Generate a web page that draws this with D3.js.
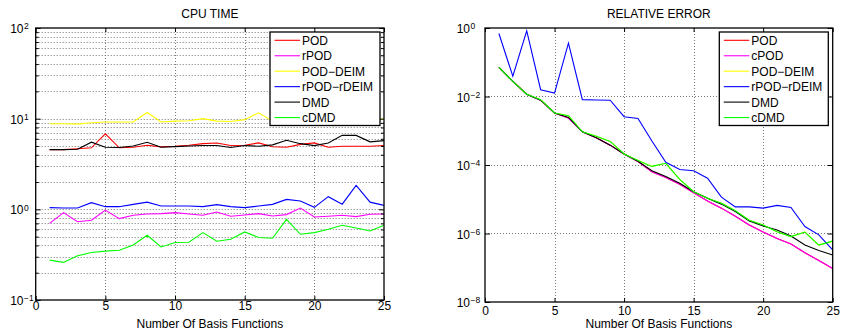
<!DOCTYPE html>
<html>
<head>
<meta charset="utf-8">
<script src="https://cdn.jsdelivr.net/npm/d3@7"></script>
<style>
body { margin: 0; background: #fff; }
svg { display: block; font-family: "Liberation Sans", Arial, sans-serif; }
</style>
</head>
<body>
<svg></svg>
<script>
var WIDTH = 841;
var HEIGHT = 330;
var FONT = '"Liberation Sans", Arial, sans-serif';

// x values and tick labels
var basisFunctions = [1, 2, 3, 4, 5, 6, 7, 8, 9, 10, 11, 12, 13, 14, 15, 16, 17, 18, 19, 20, 21, 22, 23, 24, 25];
var xTickValues = [0, 5, 10, 15, 20, 25];
var cpuTicks = [0.1, 1, 10, 100];
var cpuTickExp = ['\u22121', '0', '1', '2'];
var errTicks = [1e-8, 1e-6, 1e-4, 1e-2, 1];
var errTickExp = ['\u22128', '\u22126', '\u22124', '\u22122', '0'];

var cpuNames = ['POD', 'rPOD', 'POD\u2212DEIM', 'rPOD\u2212rDEIM', 'DMD', 'cDMD'];
var errNames = ['POD', 'cPOD', 'POD\u2212DEIM', 'rPOD\u2212rDEIM', 'DMD', 'cDMD'];
var seriesColors = ['#ff0000', '#ff00ff', '#ffff00', '#0000ff', '#000000', '#00ff00'];

// CPU TIME (seconds)
var cpuPOD = [4.56, 4.56, 4.65, 4.77, 6.8, 4.77, 4.84, 5.09, 4.89, 4.96, 5.09, 5.3, 5.4, 5.05, 5.1, 5.4, 4.9, 4.84, 5.2, 5.4, 4.84, 4.96, 4.96, 4.96, 5.05];
var cpuRPOD = [0.70, 0.92, 0.73, 0.757, 0.98, 0.79, 0.86, 0.888, 0.897, 0.92, 0.888, 0.86, 0.934, 0.838, 0.866, 0.897, 0.844, 0.875, 1.033, 0.823, 0.838, 0.859, 0.831, 0.881, 0.888];
var cpuPODDEIM = [8.8, 8.8, 8.7, 9.0, 9.2, 9.2, 9.2, 11.7, 9.2, 9.4, 9.5, 10.0, 9.4, 9.3, 9.75, 11.6, 9.4, 9.5, 9.6, 9.5, 9.7, 9.6, 9.8, 9.7, 9.9];
var cpuRPODRDEIM = [1.044, 1.035, 1.035, 1.185, 1.07, 1.07, 1.135, 1.2, 1.087, 1.087, 1.087, 1.07, 1.126, 1.07, 1.044, 1.087, 1.135, 1.288, 1.234, 1.052, 1.38, 1.14, 1.835, 1.2, 1.106];
var cpuDMD = [4.56, 4.56, 4.6, 5.5, 4.84, 4.8, 5.0, 5.5, 4.84, 4.92, 5.0, 5.05, 5.05, 4.8, 5.05, 4.96, 5.14, 5.78, 5.3, 5.05, 5.4, 6.54, 6.54, 5.55, 5.73];
var cpuCDMD = [0.275, 0.26, 0.307, 0.334, 0.346, 0.354, 0.405, 0.518, 0.385, 0.43, 0.434, 0.554, 0.445, 0.468, 0.563, 0.489, 0.48, 0.776, 0.531, 0.554, 0.603, 0.667, 0.623, 0.578, 0.667];

// RELATIVE ERROR
var errPOD = [0.0708, 0.0275, 0.0117, 0.0078, 0.0033, 0.00234, 9.3e-4, 6.2e-4, 3.8e-4, 2.1e-4, 1.26e-4, 6.3e-5, 4.3e-5, 2.75e-5, 1.55e-5, 8.9e-6, 5.5e-6, 3.2e-6, 1.78e-6, 1.1e-6, 7.2e-7, 4.9e-7, 2.75e-7, 1.62e-7, 9.5e-8];
var errCPOD = [0.0708, 0.0275, 0.0117, 0.0078, 0.0033, 0.00234, 9.3e-4, 6.2e-4, 3.8e-4, 2.1e-4, 1.26e-4, 6.3e-5, 4.3e-5, 2.75e-5, 1.55e-5, 8.9e-6, 5.5e-6, 3.2e-6, 1.78e-6, 1.1e-6, 7.2e-7, 4.9e-7, 2.75e-7, 1.62e-7, 9.5e-8];
var errPODDEIM = [0.0708, 0.0275, 0.0117, 0.0081, 0.0033, 0.00275, 9.3e-4, 6.9e-4, 4.9e-4, 2.1e-4, 1.35e-4, 9.1e-5, 1.12e-4, 3.8e-5, 1.66e-5, 1.07e-5, 7.6e-6, 4.6e-6, 2.45e-6, 1.78e-6, 1.12e-6, 8.1e-7, 1.1e-6, 4.6e-7, 6.0e-7];
var errRPODRDEIM = [0.69, 0.039, 0.83, 0.0158, 0.0126, 0.36, 0.0081, 0.0079, 0.0078, 0.00257, 0.00229, 5.0e-4, 1.2e-4, 7.4e-5, 6.8e-5, 4.1e-5, 1.15e-5, 6.0e-6, 6.0e-6, 5.5e-6, 6.6e-6, 5.75e-6, 1.6e-6, 9.1e-7, 3.3e-7];
var errDMD = [0.0708, 0.0275, 0.0117, 0.0078, 0.0033, 0.00245, 9.3e-4, 6.2e-4, 3.8e-4, 2.1e-4, 1.29e-4, 6.8e-5, 4.6e-5, 2.95e-5, 1.66e-5, 1.07e-5, 7.2e-6, 4.4e-6, 2.3e-6, 1.66e-6, 1.26e-6, 8.5e-7, 4.6e-7, 3.2e-7, 2.35e-7];
var errCDMD = [0.0708, 0.0275, 0.0117, 0.0081, 0.0033, 0.00275, 9.3e-4, 6.9e-4, 4.9e-4, 2.1e-4, 1.35e-4, 9.1e-5, 1.12e-4, 3.8e-5, 1.66e-5, 1.07e-5, 7.6e-6, 4.6e-6, 2.45e-6, 1.78e-6, 1.12e-6, 8.1e-7, 1.1e-6, 4.6e-7, 6.0e-7];

var svg = d3.select('svg')
    .attr('width', WIDTH)
    .attr('height', HEIGHT);

svg.append('rect').attr('width', WIDTH).attr('height', HEIGHT).attr('fill', '#fff');

function drawPanel(p){
    var g = svg.append('g');
    var xScale = d3.scaleLinear().domain([0, 25]).range([p.left, p.right]);
    var yScale = d3.scaleLog().domain(p.yDomain).range([p.bottom, p.top]);

    // dotted grid
    g.selectAll('line.vgrid')
        .data(xTickValues.slice(1, -1))
        .enter().append('line')
        .attr('x1', function(d){ return Math.round(xScale(d)) + 0.5; })
        .attr('x2', function(d){ return Math.round(xScale(d)) + 0.5; })
        .attr('y1', p.top).attr('y2', p.bottom)
        .attr('stroke', '#777').attr('stroke-dasharray', '1,2');
    g.selectAll('line.hgrid')
        .data(p.gridValues)
        .enter().append('line')
        .attr('x1', p.left).attr('x2', p.right)
        .attr('y1', function(d){ return Math.round(yScale(d)) + 0.5; })
        .attr('y2', function(d){ return Math.round(yScale(d)) + 0.5; })
        .attr('stroke', '#777').attr('stroke-dasharray', '1,2');

    // series
    var line = d3.line()
        .x(function(d, i){ return xScale(basisFunctions[i]); })
        .y(function(d){ return yScale(d); });
    g.selectAll('path.series')
        .data(p.series)
        .enter().append('path')
        .attr('d', line)
        .attr('fill', 'none')
        .attr('stroke-width', 1.1)
        .attr('stroke', function(d, i){ return seriesColors[i]; });

    // axes with inward ticks
    var bottomAxis = d3.axisBottom(xScale).tickValues(xTickValues)
        .tickSizeInner(-4).tickSizeOuter(0).tickPadding(p.xPad);
    var topAxis = d3.axisTop(xScale).tickValues(xTickValues)
        .tickSizeInner(-4).tickSizeOuter(0).tickFormat('');
    var leftAxis = d3.axisLeft(yScale).tickValues(p.yTicks)
        .tickSizeInner(-5).tickSizeOuter(0).tickFormat('');
    var rightAxis = d3.axisRight(yScale).tickValues(p.yTicks)
        .tickSizeInner(-5).tickSizeOuter(0).tickFormat('');

    var gb = g.append('g').attr('transform', 'translate(0,' + p.bottom + ')').call(bottomAxis);
    g.append('g').attr('transform', 'translate(0,' + p.top + ')').call(topAxis);
    var gl = g.append('g').attr('transform', 'translate(' + p.left + ',0)').call(leftAxis);
    g.append('g').attr('transform', 'translate(' + p.right + ',0)').call(rightAxis);

    if (p.minorTicks) {
        g.append('g').attr('transform', 'translate(' + p.left + ',0)')
            .call(d3.axisLeft(yScale).tickValues(p.minorTicks).tickSizeInner(-3).tickSizeOuter(0).tickFormat(''));
        g.append('g').attr('transform', 'translate(' + p.right + ',0)')
            .call(d3.axisRight(yScale).tickValues(p.minorTicks).tickSizeInner(-3).tickSizeOuter(0).tickFormat(''));
    }
    g.selectAll('.domain').remove();
    g.selectAll('.tick line').attr('stroke', '#000');

    gb.attr('font-size', 12).attr('font-family', FONT);
    gb.selectAll('text').attr('fill', '#000');

    // y labels as 10^n, placed relative to the axis group
    var lx = p.labelX - p.left;
    gl.selectAll('.tick').each(function(d, i){
        var t = d3.select(this);
        t.append('text')
            .attr('x', lx).attr('y', 4.5)
            .attr('text-anchor', 'end')
            .attr('font-size', 12).attr('font-family', FONT)
            .attr('fill', '#000')
            .text('10');
        t.append('text')
            .attr('x', lx + 0.5).attr('y', 0.8)
            .attr('text-anchor', 'start')
            .attr('font-size', 8.5).attr('font-family', FONT)
            .attr('fill', '#000')
            .text(p.yExp[i]);
    });

    // frame
    g.append('rect')
        .attr('x', p.left).attr('y', p.top)
        .attr('width', p.right - p.left).attr('height', p.bottom - p.top)
        .attr('fill', 'none').attr('stroke', '#000').attr('stroke-width', 1.3);

    // title and x label
    g.append('text')
        .attr('x', (p.left + p.right) / 2).attr('y', 18.3)
        .attr('text-anchor', 'middle').attr('font-size', 12)
        .text(p.title);
    g.append('text')
        .attr('x', (p.left + p.right) / 2).attr('y', 328.3)
        .attr('text-anchor', 'middle').attr('font-size', 12)
        .text('Number Of Basis Functions');

    // legend
    var lg = g.append('g').attr('transform', 'translate(' + p.legendX + ',32)');
    lg.append('rect')
        .attr('width', p.legendW).attr('height', 93.5)
        .attr('fill', '#fff').attr('stroke', '#000').attr('stroke-width', 1.3);
    var rows = lg.selectAll('g.row')
        .data(p.names)
        .enter().append('g')
        .attr('transform', function(d, i){ return 'translate(0,' + (8.3 + i * 15.45) + ')'; });
    rows.append('line')
        .attr('x1', 4.5).attr('x2', 30)
        .attr('stroke', function(d, i){ return seriesColors[i]; })
        .attr('stroke-width', 1.1);
    rows.append('text')
        .attr('x', 32).attr('y', 4.5)
        .attr('font-size', 12)
        .text(function(d){ return d; });
}

var cpuMinor = d3.scaleLog().domain([0.1, 100]).ticks().filter(function(v){
    return cpuTicks.indexOf(v) < 0;
});

drawPanel({
    title: 'CPU TIME',
    left: 35.7, right: 384, top: 28, bottom: 300,
    yDomain: [0.1, 100],
    yTicks: cpuTicks,
    yExp: cpuTickExp,
    minorTicks: cpuMinor,
    gridValues: cpuMinor.concat([1, 10]),
    labelX: 23.5,
    xPad: 1,
    series: [cpuPOD, cpuRPOD, cpuPODDEIM, cpuRPODRDEIM, cpuDMD, cpuCDMD],
    names: cpuNames,
    legendX: 270, legendW: 110
});

drawPanel({
    title: 'RELATIVE ERROR',
    left: 485, right: 832.7, top: 28, bottom: 302,
    yDomain: [1e-8, 1],
    yTicks: errTicks,
    yExp: errTickExp,
    minorTicks: null,
    gridValues: [1e-6, 1e-4, 1e-2],
    labelX: 470,
    xPad: 4,
    series: [errPOD, errCPOD, errPODDEIM, errRPODRDEIM, errDMD, errCDMD],
    names: errNames,
    legendX: 719.3, legendW: 109
});
</script>
</body>
</html>
